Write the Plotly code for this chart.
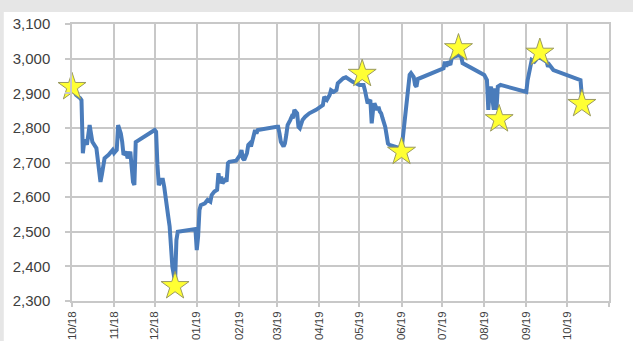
import plotly.graph_objects as go

dates = [
    "2018-10-01", "2018-10-04", "2018-10-07", "2018-10-08", "2018-10-09", "2018-10-10",
    "2018-10-11", "2018-10-12", "2018-10-14", "2018-10-15", "2018-10-16", "2018-10-19",
    "2018-10-20", "2018-10-21", "2018-10-22", "2018-10-23", "2018-10-25", "2018-10-28",
    "2018-10-31", "2018-11-01", "2018-11-03", "2018-11-04", "2018-11-06", "2018-11-07",
    "2018-11-08", "2018-11-10", "2018-11-11", "2018-11-13", "2018-11-14", "2018-11-15",
    "2018-11-16", "2018-11-17", "2018-12-01", "2018-12-02", "2018-12-03", "2018-12-04",
    "2018-12-06", "2018-12-07", "2018-12-08", "2018-12-10", "2018-12-11", "2018-12-12",
    "2018-12-13", "2018-12-14", "2018-12-16", "2018-12-17", "2018-12-18", "2018-12-31",
    "2019-01-01", "2019-01-02", "2019-01-03", "2019-01-04", "2019-01-07", "2019-01-09",
    "2019-01-11", "2019-01-12", "2019-01-14", "2019-01-16", "2019-01-17", "2019-01-18",
    "2019-01-19", "2019-01-20", "2019-01-22", "2019-01-23", "2019-01-24", "2019-01-25",
    "2019-01-30", "2019-02-02", "2019-02-03", "2019-02-04", "2019-02-05", "2019-02-07",
    "2019-02-08", "2019-02-09", "2019-02-10", "2019-02-12", "2019-02-13", "2019-02-14",
    "2019-02-15", "2019-03-01", "2019-03-02", "2019-03-03", "2019-03-04", "2019-03-06",
    "2019-03-07", "2019-03-08", "2019-03-09", "2019-03-11", "2019-03-12", "2019-03-13",
    "2019-03-14", "2019-03-16", "2019-03-17", "2019-03-18", "2019-03-19", "2019-03-20",
    "2019-03-22", "2019-03-25", "2019-03-30", "2019-04-04", "2019-04-05", "2019-04-07",
    "2019-04-09", "2019-04-10", "2019-04-12", "2019-04-14", "2019-04-15", "2019-04-17",
    "2019-04-19", "2019-04-21", "2019-04-26", "2019-05-01", "2019-05-04", "2019-05-05",
    "2019-05-06", "2019-05-07", "2019-05-09", "2019-05-10", "2019-05-11", "2019-05-12",
    "2019-05-14", "2019-05-15", "2019-05-16", "2019-05-17", "2019-05-18", "2019-05-20",
    "2019-05-21", "2019-05-22", "2019-05-23", "2019-05-28", "2019-05-31", "2019-06-01",
    "2019-06-03", "2019-06-05", "2019-06-06", "2019-06-07", "2019-06-08", "2019-06-10",
    "2019-06-11", "2019-06-12", "2019-06-13", "2019-06-17", "2019-07-02", "2019-07-03",
    "2019-07-04", "2019-07-05", "2019-07-07", "2019-07-08", "2019-07-10", "2019-07-13",
    "2019-07-15", "2019-07-16", "2019-08-01", "2019-08-03", "2019-08-04", "2019-08-05",
    "2019-08-06", "2019-08-08", "2019-08-09", "2019-08-10", "2019-08-11", "2019-08-13",
    "2019-09-01", "2019-09-02", "2019-09-04", "2019-09-05", "2019-09-07", "2019-09-10",
    "2019-09-12", "2019-09-16", "2019-09-17", "2019-09-18", "2019-09-21", "2019-10-11",
    "2019-10-12",
]

values = [
    2917, 2895, 2886, 2880, 2727, 2760,
    2765, 2751, 2808, 2784, 2760, 2741,
    2702, 2664, 2644, 2664, 2712, 2722,
    2736, 2727, 2736, 2808, 2784, 2760,
    2722, 2731, 2712, 2731, 2693, 2644,
    2635, 2759, 2794, 2789, 2693, 2635,
    2650, 2650, 2630, 2582, 2543, 2515,
    2467, 2399, 2355, 2476, 2500, 2508,
    2447, 2486, 2563, 2577, 2582, 2592,
    2587, 2606, 2616, 2621, 2669, 2640,
    2659, 2640, 2650, 2645, 2698, 2702,
    2705, 2722, 2736, 2712, 2707, 2727,
    2751, 2755, 2746, 2775, 2794, 2784,
    2794, 2803, 2803, 2784, 2760, 2746,
    2755, 2779, 2808, 2823, 2832, 2828,
    2852, 2842, 2803, 2799, 2808, 2823,
    2832, 2842, 2852, 2866, 2890, 2881,
    2895, 2909, 2904, 2909, 2929, 2938,
    2943, 2946, 2933, 2924, 2924, 2909,
    2881, 2871, 2881, 2813, 2852, 2871,
    2852, 2861, 2847, 2842, 2828, 2803,
    2779, 2755, 2751, 2746, 2741, 2736,
    2808, 2876, 2929, 2953, 2958, 2947,
    2924, 2919, 2941, 2948, 2972, 2991,
    2977, 2991, 2982, 3001, 3006, 3010,
    3006, 2987, 2953, 2938, 2852, 2909,
    2919, 2852, 2914, 2852, 2919, 2924,
    2904, 2938, 2977, 2996, 2991, 3005,
    3001, 2991, 2977, 2982, 2967, 2938,
    2890,
]

star_dates = ["2018-10-01", "2018-12-16", "2019-05-03", "2019-06-01",
              "2019-07-13", "2019-08-12", "2019-09-11", "2019-10-12"]
star_values = [2918, 2343, 2956, 2731, 3030, 2825, 3017, 2869]

tick_dates = ["2018-10-01", "2018-11-01", "2018-12-01", "2019-01-01", "2019-02-01",
              "2019-03-01", "2019-04-01", "2019-05-01", "2019-06-01", "2019-07-01",
              "2019-08-01", "2019-09-01", "2019-10-01", "2019-11-01"]
tick_labels = ["10/18", "11/18", "12/18", "01/19", "02/19", "03/19", "04/19",
               "05/19", "06/19", "07/19", "08/19", "09/19", "10/19", ""]
y_ticks = [2300, 2400, 2500, 2600, 2700, 2800, 2900, 3000, 3100]

fig = go.Figure()
fig.add_trace(go.Scatter(
    x=dates, y=values, mode="lines",
    line=dict(color="#4a7cbb", width=4),
    hoverinfo="skip",
))
fig.add_trace(go.Scatter(
    x=star_dates, y=star_values, mode="markers",
    marker=dict(symbol="star", size=21, color="#ffff33",
                line=dict(color="#9a9a60", width=1)),
    hoverinfo="skip", cliponaxis=False,
))

grid = "#c8c8c8"
fig.update_layout(
    template="none",
    width=633, height=341,
    margin=dict(l=72, r=24, t=24, b=40),
    paper_bgcolor="#e6e6e6",
    plot_bgcolor="white",
    showlegend=False,
    font=dict(family="Liberation Sans, Arial, sans-serif", size=14, color="#404040"),
)
fig.update_xaxes(
    type="date", range=["2018-10-01", "2019-11-01"],
    tickmode="array", tickvals=tick_dates, ticktext=tick_labels, tickangle=-90,
    showgrid=True, gridcolor=grid, gridwidth=1.5,
    ticks="outside", ticklen=4, tickcolor=grid, tickwidth=1.5,
    showline=True, linecolor=grid, linewidth=1.5, mirror=True,
    zeroline=False, automargin=False, ticklabelstandoff=0,
    tickfont=dict(size=11.5, color="#404040"),
)
fig.update_yaxes(
    range=[2300, 3100], tickmode="array", tickvals=y_ticks, tickformat=",d",
    showgrid=True, gridcolor=grid, gridwidth=1.5,
    ticks="outside", ticklen=5, tickcolor=grid, tickwidth=1.5,
    showline=True, linecolor=grid, linewidth=1.5, mirror=True,
    zeroline=False, automargin=False, ticklabelstandoff=12,
    tickfont=dict(size=15, color="#404040"),
)
# white chart panel over the light grey page background
fig.add_shape(type="rect", xref="paper", yref="paper",
              x0=-0.127, x1=1.06, y0=-0.2, y1=1.0433,
              fillcolor="white", line_width=0, layer="below")

fig.write_html("out.html")
